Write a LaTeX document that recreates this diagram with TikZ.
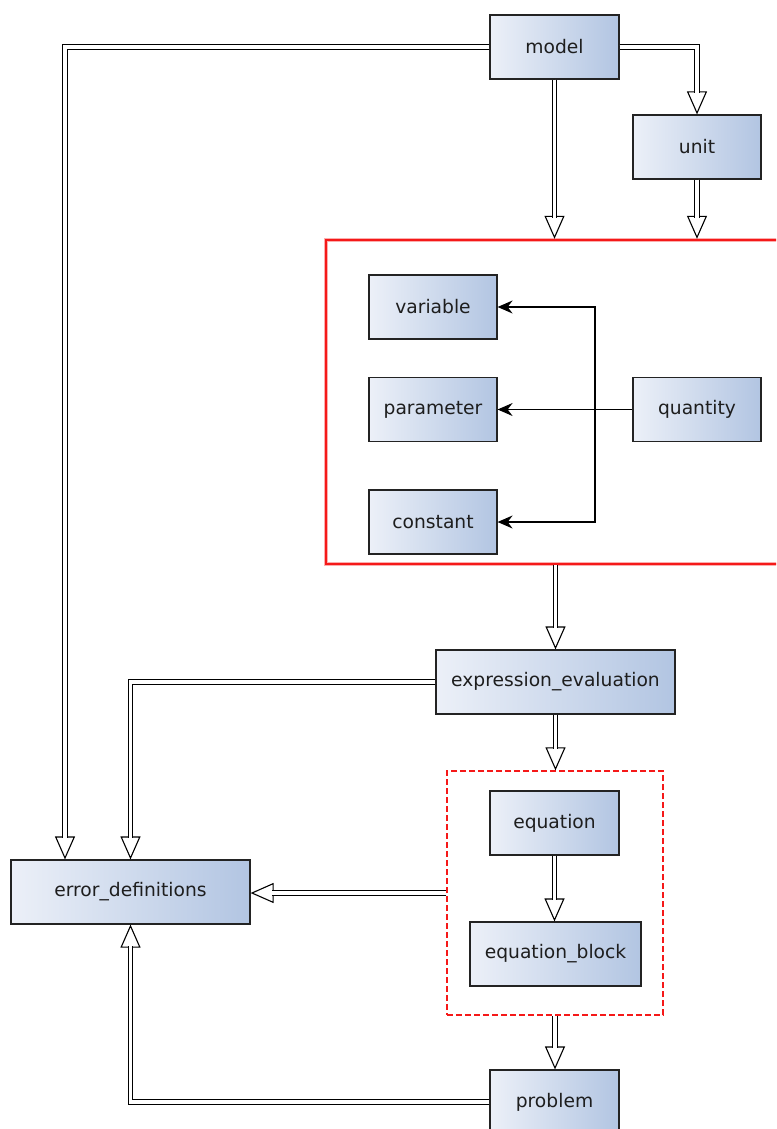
\documentclass[tikz,border=0pt]{standalone}
\usepackage{fontspec}
\setmainfont{DejaVu Sans}
\usetikzlibrary{arrows.meta}
\definecolor{boxlight}{RGB}{236,240,248}
\definecolor{boxdark}{RGB}{178,197,226}
\definecolor{frame}{RGB}{35,35,35}
\definecolor{grpred}{RGB}{245,25,25}
\definecolor{txt}{RGB}{30,30,30}
\begin{document}
\begin{tikzpicture}[x=1pt, y=-1pt,
  box/.style={draw=frame, line width=1.2pt, shading angle=75,
    left color=boxlight, right color=boxdark,
    minimum height=64pt, inner sep=0pt, text=txt,
    font=\fontsize{18.7}{22}\selectfont},
  grpbox/.style={draw=grpred, line width=2.4pt, inner sep=0pt,
    preaction={draw=grpred!35, line width=4.4pt}},
  dashbox/.style={draw=grpred, line width=1.3pt, dash pattern=on 6pt off 3pt, inner sep=0pt},
  dconn/.style={line width=1.1pt, -{Triangle[open, length=23pt, width=20pt]},
    postaction={draw, -, double=white, double distance=3.4pt, line width=1.1pt, shorten >=21pt}},
  thin/.style={line width=1.1pt, -{Stealth[length=15pt, width=13pt, inset=5pt]}}]
\useasboundingbox (0,0) rectangle (776,1129);
\clip (0,0) rectangle (776,1129);

% containers
\node[grpbox, minimum width=480pt, minimum height=324pt] (grp) at (566,402) {};
\node[dashbox, minimum width=216pt, minimum height=244pt] (eqgrp) at (555,893) {};

% classes
\node[box, minimum width=129pt] (model) at (554.5,47) {model};
\node[box, minimum width=128pt] (unit) at (697,147) {unit};
\node[box, minimum width=128pt] (var) at (433,307) {variable};
\node[box, minimum width=128pt] (par) at (433,409.5) {parameter};
\node[box, minimum width=128pt] (con) at (433,522) {constant};
\node[box, minimum width=128pt] (qty) at (697,409.5) {quantity};
\node[box, minimum width=239pt] (expr) at (555.5,682) {expression\_evaluation};
\node[box, minimum width=129pt] (eq) at (554.5,823) {equation};
\node[box, minimum width=171pt] (eqb) at (555.5,954) {equation\_block};
\node[box, minimum width=239pt] (err) at (130.5,892) {error\_definitions};
\node[box, minimum width=129pt] (prob) at (554.5,1102) {problem};

% quantity specialisations
\coordinate (jn) at (595,409.5);
\draw[thin] (qty.west) -- (par.east);
\draw[thin] (jn) |- (var.east);
\draw[thin] (jn) |- (con.east);

% dependencies
\draw[dconn] (model.west) -| ([xshift=-65.5pt]err.north);
\draw[dconn] (model.east) -| (unit.north);
\draw[dconn] (model.south) -- (model.south |- grp.north);
\draw[dconn] (unit.south) -- (unit.south |- grp.north);
\draw[dconn] (expr.north |- grp.south) -- (expr.north);
\draw[dconn] (expr.west) -| (err.north);
\draw[dconn] (expr.south) -- (expr.south |- eqgrp.north);
\draw[dconn] (eq.south) -- (eq.south |- eqb.north);
\draw[dconn] (eqgrp.west) -- (eqgrp.west -| err.east);
\draw[dconn] (eqgrp.south) -- (eqgrp.south |- prob.north);
\draw[dconn] (prob.west) -| (err.south);
\end{tikzpicture}
\end{document}
